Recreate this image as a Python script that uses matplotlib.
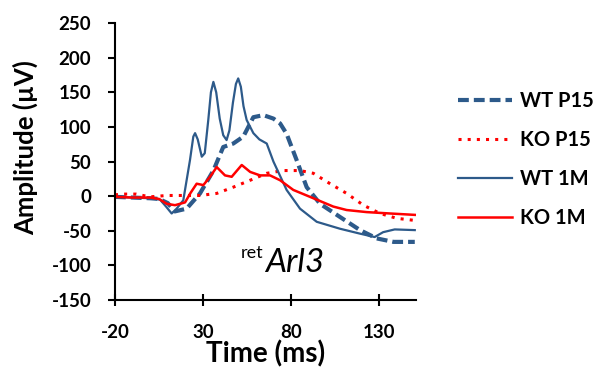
import matplotlib

matplotlib.use("Agg")
import matplotlib.pyplot as plt

plt.rcParams["font.family"] = ["Lato", "DejaVu Sans"]
plt.rcParams["axes.unicode_minus"] = False

BLUE = "#2d5a8a"
RED = "#ff0000"

# trazas leídas a ojo de la figura original (tiempo en ms, amplitud en µV)
wt_p15_t = [-20, -10, 0, 5, 10, 14, 20.7, 28.3, 35.9, 41.5, 47.2, 52.9, 58.6, 64.3,
            70, 73.8, 77.5, 83.2, 88.9, 96.5, 107.8, 119.2, 128.7, 138.2, 150.3]
wt_p15_v = [-1, -2, -3, -4, -10, -22, -18, 4, 37, 71, 76, 86, 114, 117,
            112, 105, 90, 52, 13, -11, -30, -49, -61, -66, -66]

ko_p15_t = [-20, -15, -8, -0.1, 9.4, 18.8, 28.3, 37.8, 47.2, 56.8, 66.2, 75.6, 85.1,
            92.7, 102.2, 111.6, 121.1, 130.6, 140.1, 150.3]
ko_p15_v = [2, 3, 3, -1, 1, 1, 1, 4, 13, 23, 33, 37, 37,
            33, 18, 4, -13, -25, -32, -35]

wt_1m_t = [-20, -10, 0, 5.6, 9, 12.2, 15, 18.8, 20.5, 22.6, 24.5, 25.5, 27, 29.3, 31,
           33, 34.5, 35.9, 37.5, 39.5, 41.5, 43.4, 45, 47, 48.7, 50, 51.5, 53, 54.8,
           58.6, 62, 66.2, 70, 77.5, 85.1, 94.6, 107.8, 119, 127.5, 132.3, 138.9, 150.3]
wt_1m_v = [-1, -2, -3, -5, -15, -25, -18, -6, 20, 52, 86, 91, 82, 57, 62,
           110, 150, 165, 150, 112, 88, 81, 95, 135, 162, 170, 158, 130, 110,
           91, 82, 76, 50, 9, -18, -37, -47, -54, -59, -52, -48, -49]

ko_1m_t = [-20, -10, 0, 5, 9.4, 14.1, 19.8, 23, 26.4, 30.2, 34, 37.8, 42.5, 46.3, 52,
           56.8, 62.4, 68.1, 73.8, 81.3, 92.7, 104, 111.6, 123, 136.3, 150.3]
ko_1m_v = [-1, -2, -2, -4, -11, -13, -9, 5, 18, 16, 28, 42, 30, 28, 45,
           35, 30, 30, 23, 9, -3, -15, -20, -23, -25, -27]

x_ticks = [-20, 30, 80, 130]
y_ticks = list(range(-150, 251, 50))

fig = plt.figure(figsize=(6.09, 3.70), dpi=100)
ax = fig.add_axes([0.1888, 0.189, 0.4943, 0.7488])

ax.plot(wt_p15_t, wt_p15_v, color=BLUE, lw=3.0, ls=(0, (2.6, 1.2)), label="WT P15")
ax.plot(ko_p15_t, ko_p15_v, color=RED, lw=2.2, ls=(0, (1, 2)), label="KO P15")
ax.plot(wt_1m_t, wt_1m_v, color=BLUE, lw=1.6, label="WT 1M")
ax.plot(ko_1m_t, ko_1m_v, color=RED, lw=1.8, label="KO 1M")

ax.set_xlim(-20, 151)
ax.set_ylim(-150, 250)
ax.set_xticks(x_ticks)
ax.set_yticks(y_ticks)
for s in ("top", "right"):
    ax.spines[s].set_visible(False)
for s in ("left", "bottom"):
    ax.spines[s].set_linewidth(1.5)
ax.tick_params(axis="x", direction="inout", length=8, width=1.5, pad=13)
ax.tick_params(axis="y", direction="out", length=5, width=1.5, pad=12)
for lab in ax.get_xticklabels() + ax.get_yticklabels():
    lab.set_fontsize(13.5)
    lab.set_fontweight("bold")

ax.set_xlabel("Time (ms)", fontsize=20, fontweight="bold", labelpad=0)
# etiqueta Y puesta a mano en coordenadas de figura
fig.text(25 / 609, 1 - 148 / 370, "Amplitude (µV)", rotation=90,
         ha="center", va="center", fontsize=18.5, fontweight="bold")

ax.text(64.5, -89.5, "ret", fontsize=13, ha="right", va="baseline")
ax.text(65.2, -109.7, "Arl3", fontsize=24, style="italic", ha="left", va="baseline")

fig.legend(loc="center left", bbox_to_anchor=(0.735, 0.569), frameon=False,
           borderpad=0, handlelength=2.7, handletextpad=0.4, labelspacing=0.95,
           prop={"size": 14.5, "weight": "bold"})

fig.savefig("out.png", dpi=100)
